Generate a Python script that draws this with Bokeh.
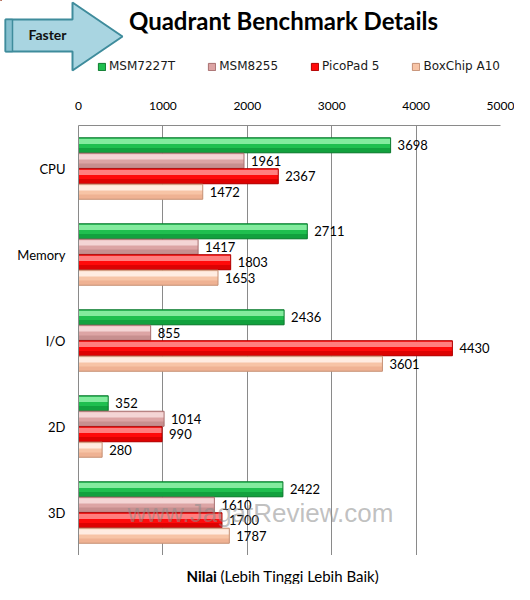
from bokeh.plotting import figure
from bokeh.models import (FactorRange, Range1d, FixedTicker, Label, Legend, LegendItem,
                          ColumnDataSource)
from bokeh.transform import dodge
from bokeh.core.properties import value
from bokeh.embed import file_html
from bokeh.resources import INLINE

# ---------------- data ----------------
categories = ["CPU", "Memory", "I/O", "2D", "3D"]
series = ["MSM7227T", "MSM8255", "PicoPad 5", "BoxChip A10"]
msm7227t = [3698, 2711, 2436, 352, 2422]
msm8255 = [1961, 1417, 855, 1014, 1610]
picopad5 = [2367, 1803, 4430, 990, 1700]
boxchip_a10 = [1472, 1653, 3601, 280, 1787]
x_ticks = [0, 1000, 2000, 3000, 4000, 5000]

# ---------------- layout (page pixels) ----------------
W = 514
TOP_H = 93           # header strip: arrow, title, legend
MAIN_H = 462         # chart
BOT_H = 29           # axis title strip
FL, FR, FT, FB = 78, 500, 125, 555   # plot frame in page pixels

styles = [
    # mid, light, dark, edge
    ("#1fbf4f", "#8ef0a6", "#0f9a3a", "#0e7a30"),
    ("#dca4a4", "#f6dada", "#c28a8a", "#a87070"),
    ("#ff0a0a", "#ff8c8c", "#d40000", "#b00000"),
    ("#f7c4a6", "#fff1e8", "#ecae8e", "#c59075"),
]
GRID = "#8a8a8a"


def blank(h):
    f = figure(width=W, height=h, output_backend="svg", toolbar_location=None,
               x_range=Range1d(0, W), y_range=Range1d(h, 0),
               x_axis_location=None, y_axis_location=None,
               min_border=0, min_border_left=0, min_border_right=0,
               min_border_top=0, min_border_bottom=0)
    f.outline_line_color = None
    f.background_fill_color = "white"
    f.border_fill_color = "white"
    f.xgrid.visible = False
    f.ygrid.visible = False
    return f


# ---------------- header figure ----------------
top = blank(TOP_H)
arrow_x = [5, 72, 72, 122, 72, 72, 5]
arrow_y = [19, 19, 2, 36, 70, 51, 51]
top.patch(arrow_x, arrow_y, fill_color="#a9d5e1", line_color="#3f8c9c", line_width=2)
top.patch([5, 12, 12, 5], [19, 19, 51, 51], fill_color="#86c0cf", line_color="#3f8c9c",
          line_width=1.5)
top.text(x=[47], y=[34], text=["Faster"], text_align="center", text_baseline="middle",
         text_font=value("Lato"), text_font_style="bold", text_font_size="14px",
         text_color="#111111")
top.text(x=[283], y=[20], text=["Quadrant Benchmark Details"], text_align="center",
         text_baseline="middle", text_font=value("Lato"), text_font_style="bold",
         text_font_size="24px", text_color="black")

dummy = ColumnDataSource(dict(y=[-50], right=[1]))
leg_items = []
for i, name in enumerate(series):
    mid, light, dark, edge = styles[i]
    r1 = top.hbar(y="y", right="right", left=0, height=1, source=dummy,
                  fill_color=mid, line_color=None)
    r2 = top.hbar(y="y", right="right", left=0, height=1, source=dummy,
                  fill_color=None, line_color=edge, line_width=1)
    leg_items.append(LegendItem(label=name, renderers=[r1, r2]))

legend = Legend(items=leg_items, orientation="horizontal", location=(97, TOP_H - 73),
                glyph_width=9, glyph_height=9, label_standoff=3, spacing=32,
                padding=0, margin=0, border_line_color=None, background_fill_alpha=0,
                label_text_font="DejaVu Sans", label_text_font_size="12px",
                label_text_color="#1a1a1a", label_height=14)
top.add_layout(legend)

# ---------------- main chart ----------------
p = figure(width=W, height=MAIN_H, output_backend="svg", toolbar_location=None,
           x_range=Range1d(0, 5000),
           y_range=FactorRange(factors=categories[::-1], range_padding=0),
           x_axis_location="above",
           min_border_left=FL, min_border_right=W - FR,
           min_border_top=FT - TOP_H, min_border_bottom=TOP_H + MAIN_H - FB)
p.background_fill_color = "white"
p.border_fill_color = "white"
p.outline_line_color = None

p.xaxis.ticker = FixedTicker(ticks=x_ticks)
p.xaxis.major_tick_out = 0
p.xaxis.major_tick_in = 0
p.xaxis.minor_tick_out = 0
p.xaxis.minor_tick_in = 0
p.xaxis.axis_line_color = GRID
p.xaxis.major_label_standoff = 16
p.xaxis.major_label_text_font = "Lato"
p.xaxis.major_label_text_font_size = "12px"
p.xaxis.major_label_text_color = "black"

p.yaxis.major_tick_out = 0
p.yaxis.major_tick_in = 0
p.yaxis.axis_line_color = GRID
p.yaxis.major_label_standoff = 13
p.yaxis.major_label_text_font = "Lato"
p.yaxis.major_label_text_font_size = "13px"
p.yaxis.major_label_text_color = "black"

p.xgrid.grid_line_color = GRID
p.ygrid.grid_line_color = None

src = ColumnDataSource(dict(
    cat=categories,
    s0=msm7227t, s1=msm8255, s2=picopad5, s3=boxchip_a10,
    l0=[str(v) for v in msm7227t], l1=[str(v) for v in msm8255],
    l2=[str(v) for v in picopad5], l3=[str(v) for v in boxchip_a10],
))

offsets = [0.27, 0.09, -0.09, -0.27]
BH = 0.175

for i, name in enumerate(series):
    off = offsets[i]
    mid, light, dark, edge = styles[i]
    key = "s%d" % i
    p.hbar(y=dodge("cat", off, range=p.y_range), left=0, right=key, height=BH,
           fill_color=mid, line_color=None, source=src)
    p.hbar(y=dodge("cat", off + 0.045, range=p.y_range), left=0, right=key, height=0.06,
           fill_color=light, fill_alpha=0.9, line_color=None, source=src)
    p.hbar(y=dodge("cat", off - 0.06, range=p.y_range), left=0, right=key, height=0.055,
           fill_color=dark, fill_alpha=0.8, line_color=None, source=src)
    p.hbar(y=dodge("cat", off, range=p.y_range), left=0, right=key, height=BH,
           fill_color=None, line_color=edge, line_width=1, source=src)
    p.text(x=key, y=dodge("cat", off, range=p.y_range), text="l%d" % i, source=src,
           x_offset=7, text_baseline="middle", text_align="left",
           text_font=value("Lato"), text_font_size="13px", text_color="black")

# watermark
p.add_layout(Label(x=260 - FL, y=FB - 512, x_units="screen", y_units="screen",
                   text="www.JagatReview.com", text_align="center", text_baseline="middle",
                   text_font="Liberation Sans", text_font_size="26px", text_color="#8c8c8c",
                   text_alpha=0.55))

# ---------------- axis title strip ----------------
bot = blank(BOT_H)
bot.text(x=[186], y=[20], text=["Nilai"], text_align="left", text_baseline="alphabetic",
         text_font=value("Lato"), text_font_style="bold", text_font_size="15px",
         text_color="black")
bot.text(x=[220], y=[20], text=["(Lebih Tinggi Lebih Baik)"], text_align="left",
         text_baseline="alphabetic", text_font=value("Lato"), text_font_size="15px",
         text_color="black")

open("out.html", "w").write(file_html([top, p, bot], INLINE))
